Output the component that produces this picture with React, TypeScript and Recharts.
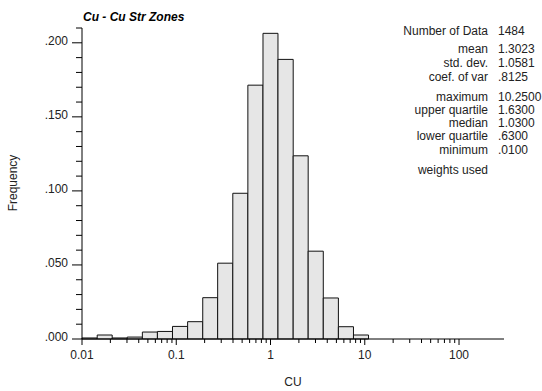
import React from 'react';
import { ComposedChart, XAxis, YAxis, ReferenceArea } from 'recharts';

// histogram bins: lower edge, upper edge, frequency
const binLow = [0.01, 0.0145, 0.0209, 0.0302, 0.0437, 0.0631, 0.0912, 0.132, 0.191, 0.275, 0.398, 0.575, 0.832, 1.2, 1.74, 2.51, 3.63, 5.25, 7.59];
const binHigh = [0.0145, 0.0209, 0.0302, 0.0437, 0.0631, 0.0912, 0.132, 0.191, 0.275, 0.398, 0.575, 0.832, 1.2, 1.74, 2.51, 3.63, 5.25, 7.59, 10.96];
const frequency = [0.0007, 0.0027, 0.0007, 0.0013, 0.0047, 0.0051, 0.0085, 0.0117, 0.0279, 0.0512, 0.0984, 0.1714, 0.2064, 0.1888, 0.1237, 0.0593, 0.0277, 0.0083, 0.0027];

const xMajorTicks = [0.01, 0.1, 1, 10, 100];
const xMinorTicks = [
  0.02, 0.03, 0.04, 0.05, 0.06, 0.07, 0.08, 0.09,
  0.2, 0.3, 0.4, 0.5, 0.6, 0.7, 0.8, 0.9,
  2, 3, 4, 5, 6, 7, 8, 9,
  20, 30, 40, 50, 60, 70, 80, 90,
];
const yTicks = [0, 0.01, 0.02, 0.03, 0.04, 0.05, 0.06, 0.07, 0.08, 0.09, 0.1, 0.11, 0.12, 0.13, 0.14, 0.15, 0.16, 0.17, 0.18, 0.19, 0.2, 0.21];
const yLabelled = [0, 0.05, 0.1, 0.15, 0.2];

const statLabels = ['Number of Data', 'mean', 'std. dev.', 'coef. of var', 'maximum', 'upper quartile', 'median', 'lower quartile', 'minimum', 'weights used'];
const statValues = ['1484', '1.3023', '1.0581', '.8125', '10.2500', '1.6300', '1.0300', '.6300', '.0100', ''];
const statRowY = [35, 53, 67, 81, 101, 114, 127, 140, 154, 174];

const FONT = '"Liberation Sans", Arial, sans-serif';

const bins = binLow.map((lo, i) => ({ lo, hi: binHigh[i], freq: frequency[i] }));
const xTicks = [...xMajorTicks, ...xMinorTicks].sort((a, b) => a - b);

const XTick = ({ x, y, payload }: any) => {
  const major = xMajorTicks.includes(payload.value);
  return (
    <g>
      <line x1={x} y1={y} x2={x} y2={y + (major ? 6 : 4)} stroke="#000" strokeWidth={1} />
      {major && (
        <text x={x} y={y + 20} textAnchor="middle" fontSize={12} fontFamily={FONT} fill="#222">
          {String(payload.value)}
        </text>
      )}
    </g>
  );
};

const YTick = ({ x, y, payload }: any) => {
  const major = yLabelled.some(v => Math.abs(v - payload.value) < 1e-9);
  return (
    <g>
      <line x1={x - (major ? 10 : 6)} y1={y} x2={x} y2={y} stroke="#000" strokeWidth={1} />
      {major && (
        <text x={x - 14} y={y + 2} textAnchor="end" fontSize={12} fontFamily={FONT} fill="#222">
          {payload.value.toFixed(3).replace(/^0/, '')}
        </text>
      )}
    </g>
  );
};

export default function App() {
  return (
    <div style={{ position: 'absolute', left: 0, top: 0, width: 542, height: 391, background: '#fff' }}>
      <ComposedChart
        width={542}
        height={391}
        data={bins}
        margin={{ top: 28, right: 38, left: 0, bottom: 0 }}
      >
        <XAxis
          dataKey="lo"
          type="number"
          scale="log"
          domain={[0.01, 300]}
          ticks={xTicks}
          interval={0}
          allowDataOverflow
          height={52}
          tickSize={0}
          tickMargin={0}
          tick={<XTick />}
          stroke="#000"
        />
        <YAxis
          type="number"
          domain={[0, 0.21]}
          ticks={yTicks}
          interval={0}
          allowDataOverflow
          width={82}
          tickSize={0}
          tickMargin={0}
          tick={<YTick />}
          stroke="#000"
        />
        {bins.map((b, i) => (
          <ReferenceArea
            key={i}
            x1={b.lo}
            x2={b.hi}
            y1={0}
            y2={b.freq}
            fill="#e6e6e6"
            fillOpacity={1}
            stroke="#111"
            strokeWidth={1}
            ifOverflow="visible"
          />
        ))}
      </ComposedChart>
      <svg width={542} height={391} style={{ position: 'absolute', left: 0, top: 0, pointerEvents: 'none' }}>
        <text x={83} y={21} fontSize={12} fontWeight="bold" fontStyle="italic" fontFamily={FONT} fill="#000">
          Cu - Cu Str Zones
        </text>
        {statLabels.map((lab, i) => (
          <g key={lab}>
            <text x={488} y={statRowY[i]} textAnchor="end" fontSize={12} fontFamily={FONT} fill="#222">
              {lab}
            </text>
            <text x={498} y={statRowY[i]} fontSize={12} fontFamily={FONT} fill="#222">
              {statValues[i]}
            </text>
          </g>
        ))}
        <text x={293} y={386} textAnchor="middle" fontSize={12} fontFamily={FONT} fill="#222">
          CU
        </text>
        <text
          x={17}
          y={183}
          textAnchor="middle"
          fontSize={12}
          fontFamily={FONT}
          fill="#222"
          transform="rotate(-90 17 183)"
        >
          Frequency
        </text>
      </svg>
    </div>
  );
}
